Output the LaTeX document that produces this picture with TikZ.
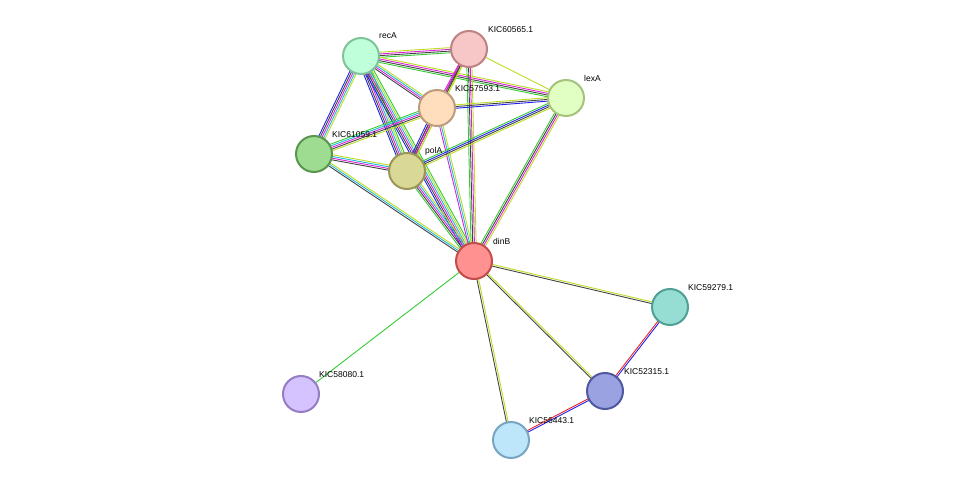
\documentclass[tikz,border=0pt]{standalone}
\usepackage{fontspec}
\setmainfont{Liberation Sans}
\usetikzlibrary{calc}
\definecolor{eg}{HTML}{33CC33}
\definecolor{eb}{HTML}{2222EE}
\definecolor{ek}{HTML}{444444}
\definecolor{em}{HTML}{DD22DD}
\definecolor{ec}{HTML}{22BBDD}
\definecolor{el}{HTML}{BBDD22}
\definecolor{er}{HTML}{EE2222}
\newcommand\medge[4]{%
  \foreach \c [count=\i] in {#4}{%
    \pgfmathsetmacro\off{(\i-(#3+1)/2)*1.7}%
    \draw[\c,line width=0.9pt] ($(#1)!\off pt!90:(#2)$) -- ($(#2)!\off pt!-90:(#1)$);
  }}
\begin{document}
\begin{tikzpicture}[x=1pt,y=-1pt,
  prot/.style={circle,minimum size=36pt,line width=2pt,inner sep=0pt},
  lab/.style={font=\fontsize{8.5pt}{10pt}\selectfont,anchor=south west,inner sep=1pt}]
\useasboundingbox (0,0) rectangle (975,486);
\coordinate (recA) at (361,56);
\coordinate (k60565) at (469,49);
\coordinate (lexA) at (566,98);
\coordinate (k57593) at (437,108);
\coordinate (k61059) at (314,154);
\coordinate (polA) at (407,171);
\coordinate (dinB) at (474,261);
\coordinate (k59279) at (670,307);
\coordinate (k52315) at (605,391);
\coordinate (k56443) at (511,440);
\coordinate (k58080) at (301,394);
\medge{recA}{k60565}{4}{eg,ek,em,el}
\medge{recA}{lexA}{4}{eg,ek,em,el}
\medge{recA}{k57593}{4}{ek,em,ec,el}
\medge{recA}{k61059}{5}{eb,ek,em,ec,el}
\medge{recA}{polA}{6}{eb,ek,em,ec,el,eg}
\medge{recA}{dinB}{6}{eb,ek,em,ec,el,eg}
\medge{k60565}{k57593}{3}{em,ek,el}
\medge{k60565}{lexA}{1}{el}
\medge{k60565}{dinB}{4}{eg,ek,em,el}
\medge{k60565}{polA}{3}{em,ek,el}
\medge{k57593}{lexA}{3}{eb,ek,el}
\medge{k57593}{k61059}{5}{eg,ec,em,ek,el}
\medge{k57593}{polA}{4}{eb,ek,em,el}
\medge{k57593}{dinB}{3}{em,ec,el}
\medge{lexA}{polA}{4}{eg,eb,ek,el}
\medge{lexA}{dinB}{4}{eg,ek,em,el}
\medge{k61059}{polA}{4}{ek,em,ec,el}
\medge{k61059}{dinB}{3}{ek,ec,el}
\medge{polA}{dinB}{5}{eg,ek,em,ec,el}
\medge{dinB}{k59279}{2}{ek,el}
\medge{dinB}{k52315}{2}{ek,el}
\medge{dinB}{k56443}{2}{ek,el}
\medge{dinB}{k58080}{1}{eg}
\medge{k59279}{k52315}{2}{er,eb}
\medge{k52315}{k56443}{2}{er,eb}
\node[prot,fill={rgb,255:red,191;green,255;blue,218},draw={rgb,255:red,127;green,195;blue,155}] (nrecA) at (recA) {};
\node[prot,fill={rgb,255:red,247;green,199;blue,199},draw={rgb,255:red,190;green,130;blue,130}] (n60565) at (k60565) {};
\node[prot,fill={rgb,255:red,225;green,255;blue,195},draw={rgb,255:red,165;green,195;blue,125}] (nlexA) at (lexA) {};
\node[prot,fill={rgb,255:red,255;green,222;blue,190},draw={rgb,255:red,190;green,155;blue,125}] (n57593) at (k57593) {};
\node[prot,fill={rgb,255:red,158;green,220;blue,145},draw={rgb,255:red,90;green,150;blue,80}] (n61059) at (k61059) {};
\node[prot,fill={rgb,255:red,218;green,216;blue,150},draw={rgb,255:red,155;green,150;blue,85}] (npolA) at (polA) {};
\node[prot,fill={rgb,255:red,255;green,145;blue,145},draw={rgb,255:red,195;green,75;blue,75}] (ndinB) at (dinB) {};
\node[prot,fill={rgb,255:red,150;green,222;blue,212},draw={rgb,255:red,80;green,160;blue,150}] (n59279) at (k59279) {};
\node[prot,fill={rgb,255:red,155;green,162;blue,225},draw={rgb,255:red,80;green,88;blue,160}] (n52315) at (k52315) {};
\node[prot,fill={rgb,255:red,190;green,230;blue,250},draw={rgb,255:red,120;green,165;blue,195}] (n56443) at (k56443) {};
\node[prot,fill={rgb,255:red,212;green,195;blue,255},draw={rgb,255:red,150;green,125;blue,195}] (n58080) at (k58080) {};
\node[lab] at (378,40) {recA};
\node[lab] at (487,34) {KIC60565.1};
\node[lab] at (583,83) {lexA};
\node[lab] at (454,93) {KIC57593.1};
\node[lab] at (331,139) {KIC61059.1};
\node[lab] at (424,156) {polA};
\node[lab] at (492,246) {dinB};
\node[lab] at (687,292) {KIC59279.1};
\node[lab] at (623,376) {KIC52315.1};
\node[lab] at (528,425) {KIC56443.1};
\node[lab] at (318,379) {KIC58080.1};
\end{tikzpicture}
\end{document}
